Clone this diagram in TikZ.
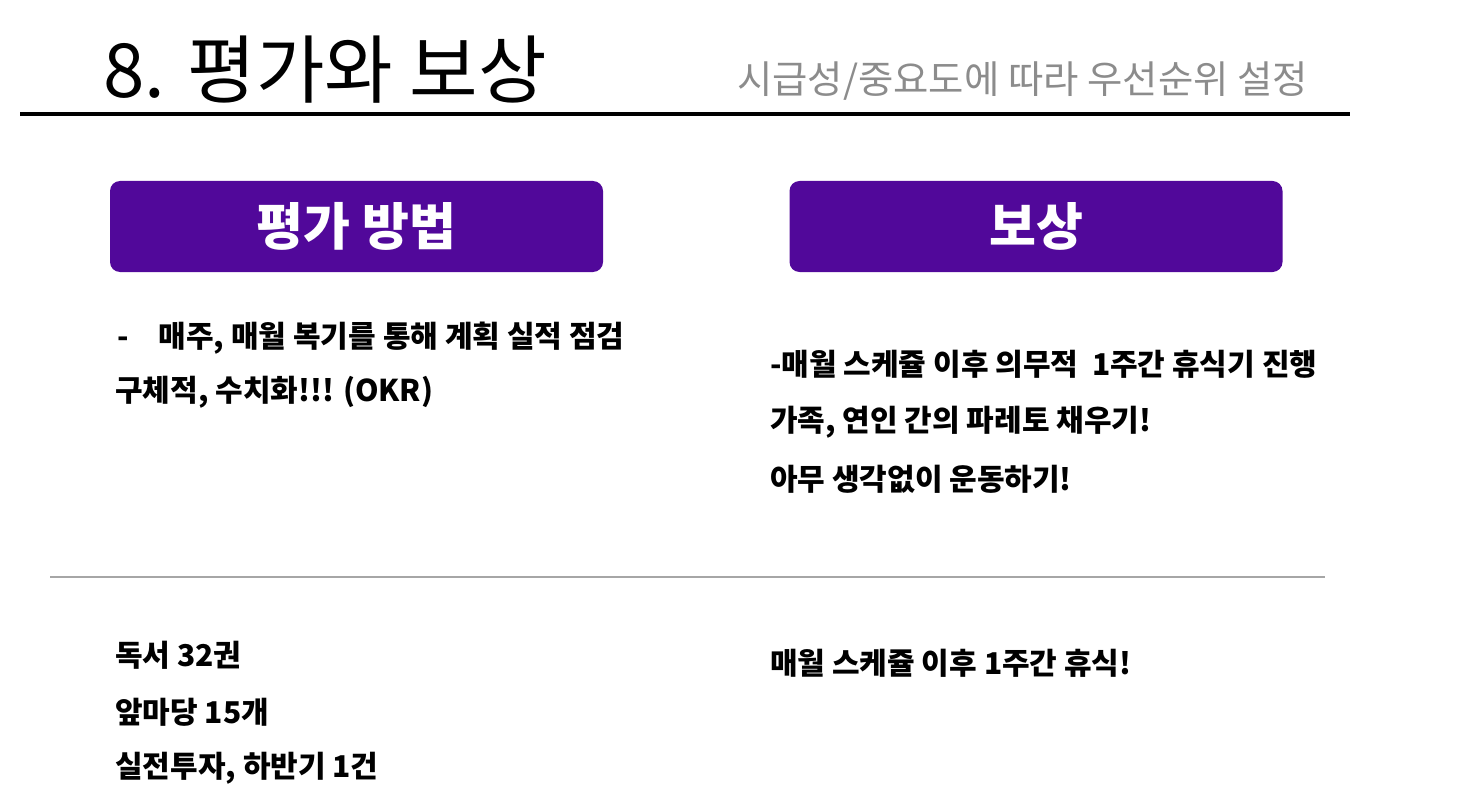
\documentclass[tikz,border=0pt]{standalone}
\usepackage{fontspec}
\setmainfont{Noto Sans CJK KR}
\usetikzlibrary{positioning}
\definecolor{boxpurple}{HTML}{51089A}
\definecolor{subgrey}{HTML}{8C8C8C}
\definecolor{rulegrey}{HTML}{A6A6A6}

\begin{document}
\begin{tikzpicture}[x=1pt,y=-1pt,
        headbox/.style={rectangle,rounded corners=10pt,fill=boxpurple,text=white,
            minimum width=493pt,minimum height=91pt,inner sep=0pt,
            font=\fontsize{51}{55}\selectfont\bfseries},
        bodytext/.style={anchor=west,inner sep=0pt,
            font=\fontsize{30}{34}\selectfont\bfseries}]
            \useasboundingbox (0,0) rectangle (1480,805);

            \node [anchor=west,inner sep=0pt,font=\fontsize{74.5}{80}\selectfont] (title) at (103,70) {8. 평가와 보상};
            \node [anchor=west,inner sep=0pt,text=subgrey,font=\fontsize{38.4}{42}\selectfont] (subtitle) at (737,81) {시급성/중요도에 따라 우선순위 설정};
            \draw [line width=4pt] (20,114) -- (1350,114);

            \node [headbox] (evalhead) at (356.5,226.5) {평가 방법};
            \node [headbox] (rewardhead) at (1036,226.5) {보상};

            \node [bodytext] (eval1) at (117,338) {-\hspace{30pt}매주, 매월 복기를 통해 계획 실적 점검};
            \node [bodytext] (eval2) at (115,392) {구체적, 수치화!!! (OKR)};

            \node [bodytext] (reward1) at (770,364) {-매월 스케쥴 이후 의무적~ 1주간 휴식기 진행};
            \node [bodytext] (reward2) at (770,422) {가족, 연인 간의 파레토 채우기!};
            \node [bodytext] (reward3) at (770,479) {아무 생각없이 운동하기!};

            \draw [rulegrey, line width=1.2pt] (50,577) -- (1325,577);

            \node [bodytext] (goal1) at (115,655) {독서 32권};
            \node [bodytext] (goal2) at (115,712) {앞마당 15개};
            \node [bodytext] (goal3) at (115,768) {실전투자, 하반기 1건};
            \node [bodytext] (rest) at (770,663) {매월 스케쥴 이후 1주간 휴식!};
\end{tikzpicture}
\end{document}
